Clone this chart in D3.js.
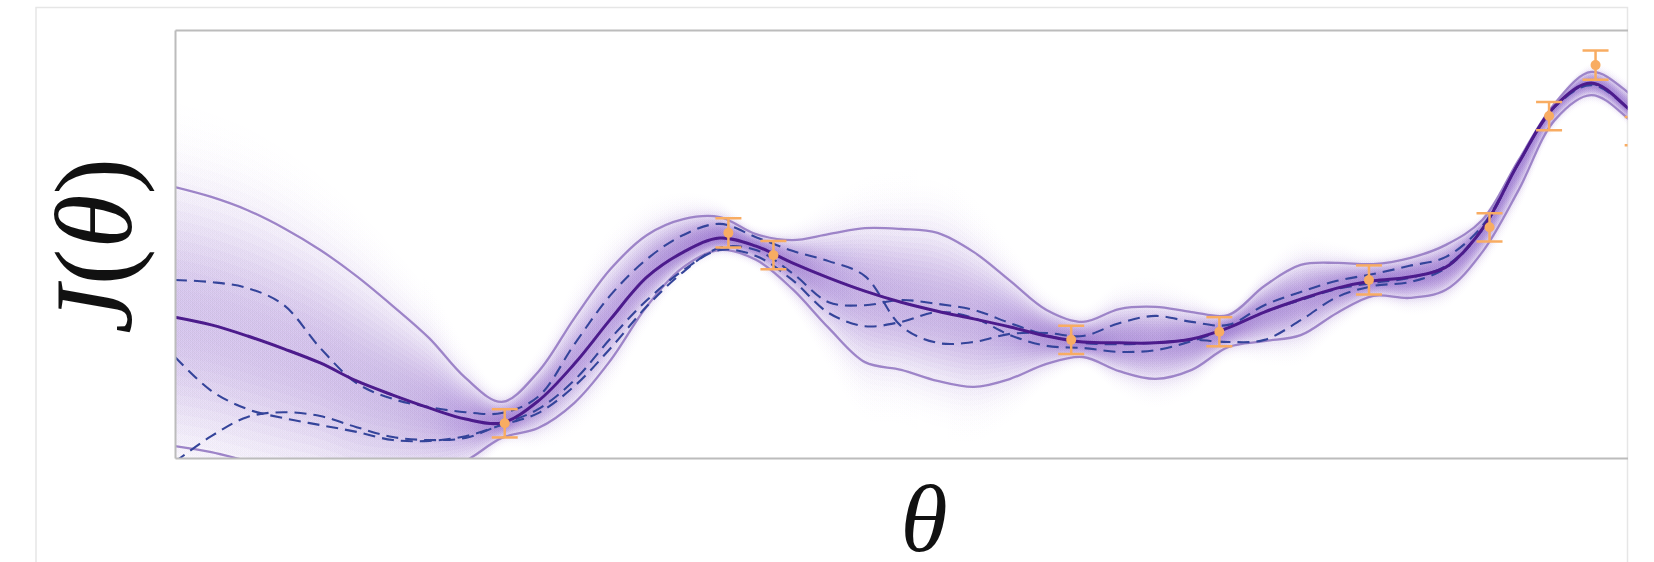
<!DOCTYPE html>
<html>
<head>
<meta charset="utf-8">
<script src="https://cdn.jsdelivr.net/npm/d3@7"></script>
<style>
  html, body { margin: 0; padding: 0; background: #fff; }
  svg { display: block; }
</style>
</head>
<body>
<div id="chart"></div>
<script>
// ── data ──
// theta grid the GP posterior is summarised on
const theta = [0, 0.25, 0.5, 0.75, 1, 1.25, 1.5, 1.75, 2, 2.25, 2.5, 2.75, 3, 3.25, 3.5, 3.75,
  4, 4.25, 4.5, 4.75, 5, 5.25, 5.5, 5.75, 6, 6.25, 6.5, 6.75, 7, 7.25, 7.5, 7.75,
  8, 8.25, 8.5, 8.75, 9, 9.25, 9.5, 9.75, 10, 10.25];

const postMean = [3.29, 3.11, 2.85, 2.55, 2.22, 1.80, 1.47, 1.17, 0.91, 0.82, 1.33, 2.20,
  3.25, 4.23, 4.81, 5.14, 4.95, 4.56, 4.21, 3.90, 3.64, 3.43, 3.25, 3.06, 2.85, 2.71,
  2.69, 2.69, 2.78, 3.04, 3.41, 3.71, 3.97, 4.14, 4.23, 4.46, 5.35, 6.89, 8.22, 8.76, 8.18, 7.20];

const postUpper = [6.33, 6.10, 5.79, 5.37, 4.86, 4.25, 3.55, 2.80, 1.87, 1.31, 2.01, 3.27,
  4.42, 5.21, 5.58, 5.63, 5.23, 5.09, 5.23, 5.37, 5.35, 5.26, 4.81, 4.14, 3.46, 3.18,
  3.48, 3.53, 3.41, 3.34, 4.02, 4.51, 4.56, 4.53, 4.67, 4.98, 5.56, 6.96, 8.29, 9.02, 8.55, 7.62];

const postLower = [0.28, 0.14, -0.07, -0.26, -0.42, -0.65, -0.61, -0.42, -0.07, 0.47, 0.70, 1.29,
  2.29, 3.55, 4.46, 4.86, 4.63, 3.95, 3.04, 2.24, 2.06, 1.80, 1.66, 1.85, 2.20, 2.36,
  2.03, 1.85, 2.06, 2.59, 2.73, 2.87, 3.39, 3.79, 3.74, 3.93, 4.81, 6.26, 7.90, 8.48, 7.94, 6.96];

// three posterior draws (dashed)
const sampleA = [4.16, 4.11, 3.97, 3.57, 2.57, 1.75, 1.38, 1.19, 1.07, 1.05, 1.43, 2.66,
  3.81, 4.65, 5.21, 5.47, 5.16, 4.84, 4.60, 4.25, 3.08, 2.69, 2.71, 2.90, 2.92, 2.85,
  3.15, 3.32, 3.18, 3.11, 3.57, 3.88, 4.14, 4.30, 4.49, 4.70, 5.42, 6.89, 8.20, 8.71, 8.18, 7.24];

const sampleB = [2.36, 1.57, 1.14, 0.93, 0.77, 0.61, 0.42, 0.40, 0.51, 0.77, 1.05, 1.68,
  2.57, 3.55, 4.35, 4.91, 4.86, 4.32, 3.64, 3.57, 3.69, 3.60, 3.46, 3.15, 2.87, 2.69,
  2.66, 2.69, 2.76, 2.71, 2.76, 3.22, 3.76, 4.02, 4.11, 4.44, 5.33, 6.89, 8.22, 8.74, 8.18, 7.20];

const sampleC = [-0.09, 0.51, 0.96, 1.07, 0.98, 0.72, 0.49, 0.42, 0.47, 0.79, 1.14, 1.82,
  2.80, 3.69, 4.39, 4.86, 4.72, 4.16, 3.39, 3.08, 3.18, 3.41, 3.27, 2.87, 2.62, 2.57,
  2.48, 2.52, 2.73, 3.04, 3.41, 3.69, 3.95, 4.09, 4.21, 4.49, 5.35, 6.89, 8.22, 8.74, 8.18, 7.20];

// noisy evaluations of J(theta)
const obsTheta = [2.27, 3.81, 4.12, 6.17, 7.19, 8.22, 9.05, 9.46, 9.78, 10.07];
const obsJ = [0.81, 5.26, 4.74, 2.76, 2.95, 4.16, 5.39, 7.99, 9.18, 7.64];
const obsErr = [0.33, 0.34, 0.33, 0.33, 0.34, 0.34, 0.33, 0.33, 0.34, 0.33];

// ── layout ──
const W = 1654, H = 562;
const M = { t: 30, r: 26.5, b: 104, l: 175 };
const C = {
  band: "#9d84c8",
  mean: "#4c1b8c",
  sample: "#34449a",
  obs: "#f8ac62",
  shade: "#7442bd",
  box: "#bcbcbc",
  frame: "#e6e6e6",
};

const svg = d3.select("#chart").append("svg")
  .attr("width", W).attr("height", H)
  .attr("viewBox", `0 0 ${W} ${H}`);

const x = d3.scaleLinear().domain([0, 10]).range([M.l, W - M.r]);
const y = d3.scaleLinear().domain([0, 10]).range([H - M.b, M.t]);
const curve = d3.curveCatmullRom.alpha(0.5);

const defs = svg.append("defs");
defs.append("clipPath").attr("id", "plotClip")
  .append("rect")
  .attr("x", M.l).attr("y", M.t)
  .attr("width", W - M.l - M.r).attr("height", H - M.t - M.b);

// horizontal gradient: density is stronger where the posterior is narrow
const grad = defs.append("linearGradient")
  .attr("id", "densGrad")
  .attr("gradientUnits", "userSpaceOnUse")
  .attr("x1", x(theta[0])).attr("x2", x(theta[theta.length - 1]))
  .attr("y1", 0).attr("y2", 0);
const span = theta[theta.length - 1] - theta[0];
theta.forEach((t, i) => {
  const sig = Math.max(2, (y(postLower[i]) - y(postUpper[i])) / 4);
  grad.append("stop")
    .attr("offset", (t - theta[0]) / span)
    .attr("stop-color", C.shade)
    .attr("stop-opacity", Math.min(0.98, 3.0 / Math.sqrt(sig)));
});

// outer light frame
svg.append("path")
  .attr("d", `M36,${H} V7.5 H${W - M.r} V${H}`)
  .attr("fill", "none").attr("stroke", C.frame).attr("stroke-width", 1.5);

const plot = svg.append("g").attr("clip-path", "url(#plotClip)");

// density: stacked gaussian layers, band lines sit at 2 sigma
const gauss = (z) => Math.exp(-z * z / 2.6);
const zs = d3.range(1, 25).map((k) => k * 0.15);
const rows = theta.map((t, i) => ({ t, m: postMean[i], u: postUpper[i], l: postLower[i] }));
zs.slice().reverse().forEach((z) => {
  const k = zs.indexOf(z);
  const prev = k === 0 ? 0 : zs[k - 1];
  const area = d3.area()
    .curve(curve)
    .x((d) => x(d.t))
    .y0((d) => y(d.m - (z / 2) * (d.m - d.l)))
    .y1((d) => y(d.m + (z / 2) * (d.u - d.m)));
  plot.append("path")
    .datum(rows)
    .attr("d", area)
    .attr("fill", "url(#densGrad)")
    .attr("fill-opacity", gauss(prev) - gauss(z));
});

const line = (vals) => d3.line().curve(curve)
  .x((d, i) => x(theta[i])).y((d) => y(d))(vals);

// 2-sigma envelope
[postUpper, postLower].forEach((vals) => {
  plot.append("path")
    .attr("d", line(vals))
    .attr("fill", "none")
    .attr("stroke", C.band)
    .attr("stroke-width", 2.3);
});

// posterior draws
[sampleA, sampleB, sampleC].forEach((vals) => {
  plot.append("path")
    .attr("d", line(vals))
    .attr("fill", "none")
    .attr("stroke", C.sample)
    .attr("stroke-width", 2.1)
    .attr("stroke-dasharray", "12,7");
});

// posterior mean
plot.append("path")
  .attr("d", line(postMean))
  .attr("fill", "none")
  .attr("stroke", C.mean)
  .attr("stroke-width", 3);

// observations with error bars
const obs = obsTheta.map((t, i) => ({ t, j: obsJ[i], e: obsErr[i] }));
const og = plot.append("g").selectAll("g").data(obs).join("g");
og.append("line")
  .attr("x1", (d) => x(d.t)).attr("x2", (d) => x(d.t))
  .attr("y1", (d) => y(d.j + d.e)).attr("y2", (d) => y(d.j - d.e))
  .attr("stroke", C.obs).attr("stroke-width", 2.5);
[1, -1].forEach((s) => {
  og.append("line")
    .attr("x1", (d) => x(d.t) - 13).attr("x2", (d) => x(d.t) + 13)
    .attr("y1", (d) => y(d.j + s * d.e)).attr("y2", (d) => y(d.j + s * d.e))
    .attr("stroke", C.obs).attr("stroke-width", 2.5);
});
og.append("circle")
  .attr("cx", (d) => x(d.t)).attr("cy", (d) => y(d.j))
  .attr("r", 5)
  .attr("fill", C.obs);

// box: bottom, left, top (no tick marks)
const noTicks = (ax) => ax.tickValues([]).tickSizeOuter(0);
svg.append("g").attr("transform", `translate(0,${H - M.b})`).call(noTicks(d3.axisBottom(x)));
svg.append("g").attr("transform", `translate(${M.l},0)`).call(noTicks(d3.axisLeft(y)));
svg.append("g").attr("transform", `translate(0,${M.t})`).call(noTicks(d3.axisTop(x)));
svg.selectAll(".domain").attr("stroke", C.box).attr("stroke-width", 2);

// axis labels
const label = svg.append("g")
  .attr("font-family", "'Liberation Serif', 'DejaVu Serif', serif")
  .attr("fill", "#111");
const yl = label.append("text")
  .attr("transform", "translate(131,246) rotate(-90)")
  .attr("text-anchor", "middle")
  .attr("font-size", 110);
yl.append("tspan").attr("font-style", "italic").text("J");
yl.append("tspan").text("(");
yl.append("tspan").attr("font-style", "italic").text("θ");
yl.append("tspan").text(")");

label.append("text")
  .attr("x", 924).attr("y", 551)
  .attr("text-anchor", "middle")
  .attr("font-size", 96)
  .attr("font-style", "italic")
  .text("θ");
</script>
</body>
</html>
